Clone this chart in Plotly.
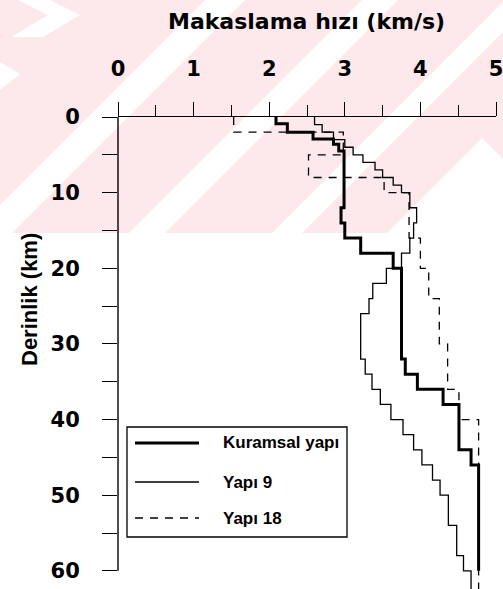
import plotly.graph_objects as go

# Shear-wave velocity (km/s) of each layer, listed with the depth (km) of the
# layer top; the last layer runs down to the *_base depth.
kuramsal_top = [0, 0.9, 2, 2.9, 3.6, 4.5, 12, 14, 16, 18, 20, 32, 34, 36, 38, 44, 46]
kuramsal_vs = [2.09, 2.24, 2.58, 2.85, 2.92, 2.99, 2.95, 3.00, 3.21, 3.64, 3.75,
               3.80, 3.96, 4.30, 4.51, 4.67, 4.77]
kuramsal_base = 60

yapi9_top = [0, 1, 2, 3, 4, 5, 6, 7, 8, 9, 10, 12, 14, 16, 18, 20, 22, 24, 26,
             32, 34, 36, 38, 40, 42, 44, 46, 48, 50, 54, 58, 60]
yapi9_vs = [2.60, 2.70, 2.85, 3.00, 3.11, 3.24, 3.40, 3.50, 3.64, 3.75, 3.86,
            3.95, 3.91, 3.86, 3.75, 3.55, 3.37, 3.32, 3.21, 3.27, 3.36, 3.47,
            3.61, 3.77, 3.91, 4.02, 4.16, 4.26, 4.37, 4.48, 4.57, 4.67]
yapi9_base = 62.4

yapi18_top = [0, 2, 5, 8, 10, 16, 20, 24, 30, 36, 40]
yapi18_vs = [1.53, 2.98, 2.52, 3.52, 3.85, 4.00, 4.11, 4.25, 4.36, 4.51, 4.77]
yapi18_base = 62.4

series_names = ["Kuramsal yapı", "Yapı 9", "Yapı 18"]
x_ticks = [0, 1, 2, 3, 4, 5]
y_ticks = [0, 10, 20, 30, 40, 50, 60]

W, H = 503, 589
L, R, T, B = 118, 7, 117, 0
X_RANGE = [0, 5]
Y_RANGE = [62.4, 0]

styles = [
    dict(color="black", width=3.0, dash="solid"),
    dict(color="black", width=1.3, dash="solid"),
    dict(color="black", width=1.3, dash="8px,7px"),
]


def px_x(p):
    return (p - L) / (W - L - R)


def px_y(p):
    return (H - B - p) / (H - T - B)


def step_trace(tops, vs, base, name, style):
    # 'vh' draws each layer as a vertical run followed by the jump to the next velocity
    return go.Scatter(
        x=list(vs) + [vs[-1]],
        y=list(tops) + [base],
        mode="lines",
        line=dict(shape="vh", **style),
        name=name,
        showlegend=False,
        hoverinfo="skip",
    )


fig = go.Figure()
fig.add_trace(step_trace(yapi18_top, yapi18_vs, yapi18_base, series_names[2], styles[2]))
fig.add_trace(step_trace(yapi9_top, yapi9_vs, yapi9_base, series_names[1], styles[1]))
fig.add_trace(step_trace(kuramsal_top, kuramsal_vs, kuramsal_base, series_names[0], styles[0]))

shapes = []

# pale pink watermark band with white diagonal stripes
PINK = "#fde8ec"
band_bottom = 233


def poly(points, color):
    path = "M " + " L ".join(f"{px_x(a):.5f},{px_y(b):.5f}" for a, b in points) + " Z"
    return dict(type="path", path=path, xref="paper", yref="paper",
                fillcolor=color, line=dict(width=0), layer="below")


shapes.append(poly([(0, 0), (W, 0), (W, band_bottom), (0, band_bottom)], PINK))
for c1, c2 in [(205, 245), (362, 398), (505, 535)]:
    shapes.append(poly([(c1, 0), (c2, 0), (c2 - band_bottom, band_bottom),
                        (c1 - band_bottom, band_bottom)], "white"))
# chevron pieces near the corners
shapes.append(poly([(18, 0), (50, 0), (80, 15), (43, 37), (11, 37), (48, 15)], "white"))
shapes.append(poly([(0, 62), (20, 74), (0, 90)], "white"))
shapes.append(poly([(387, band_bottom), (482, 138), (W, 159), (W, band_bottom)], "white"))

# left axis line stops at the last labelled depth
y_axis_end = 1 - y_ticks[-1] / Y_RANGE[0]
shapes.append(dict(type="line", xref="paper", yref="paper", x0=0, x1=0, y0=1,
                   y1=y_axis_end, line=dict(color="black", width=1.4)))

# legend frame and samples
box = (127, 427, 347, 537)
shapes.append(dict(type="rect", xref="paper", yref="paper",
                   x0=px_x(box[0]), x1=px_x(box[2]), y0=px_y(box[1]), y1=px_y(box[3]),
                   line=dict(color="black", width=1.3), fillcolor="white"))
rows = [443, 482, 518]
annotations = []
for name, style, yy in zip(series_names, styles, rows):
    shapes.append(dict(type="line", xref="paper", yref="paper",
                       x0=px_x(135), x1=px_x(199), y0=px_y(yy), y1=px_y(yy),
                       line=dict(color=style["color"], width=style["width"],
                                 dash=style["dash"])))
    annotations.append(dict(text=name, xref="paper", yref="paper", x=px_x(221), y=px_y(yy),
                            xanchor="left", yanchor="middle", showarrow=False,
                            font=dict(family="Liberation Sans", size=17, weight="bold",
                                      color="black")))

annotations.append(dict(text="Makaslama hızı (km/s)", xref="paper", yref="paper",
                        x=px_x(306), y=px_y(21), xanchor="center", yanchor="middle",
                        showarrow=False,
                        font=dict(family="DejaVu Sans", size=22, weight="bold",
                                  color="black")))
annotations.append(dict(text="Derinlik (km)", xref="paper", yref="paper",
                        x=px_x(29), y=px_y(300), xanchor="center", yanchor="middle",
                        textangle=-90, showarrow=False,
                        font=dict(family="Liberation Sans", size=22, weight="bold",
                                  color="black")))

tick_font = dict(family="DejaVu Sans", size=21, weight="bold", color="black")

fig.update_layout(
    width=W, height=H,
    margin=dict(l=L, r=R, t=T, b=B, pad=0),
    paper_bgcolor="white",
    plot_bgcolor="rgba(0,0,0,0)",
    shapes=shapes,
    annotations=annotations,
    xaxis=dict(
        range=X_RANGE, side="top", tickvals=x_ticks,
        showline=True, linecolor="black", linewidth=1.4, mirror=False,
        ticks="outside", ticklen=14, tickwidth=1.3, tickcolor="black",
        minor=dict(dtick=0.5, ticks="outside", ticklen=11, tickwidth=1.3,
                   tickcolor="black", showgrid=False),
        showgrid=False, zeroline=False, tickfont=tick_font,
        ticklabelstandoff=17, ticklabeloverflow="allow",
    ),
    yaxis=dict(
        range=Y_RANGE, tickvals=y_ticks,
        showline=False,
        ticks="outside", ticklen=15, tickwidth=1.3, tickcolor="black",
        minor=dict(dtick=5, ticks="outside", ticklen=15, tickwidth=1.3,
                   tickcolor="black", showgrid=False),
        showgrid=False, zeroline=False, tickfont=tick_font,
        ticklabelstandoff=18, ticklabeloverflow="allow",
    ),
)

fig.write_html("out.html")
